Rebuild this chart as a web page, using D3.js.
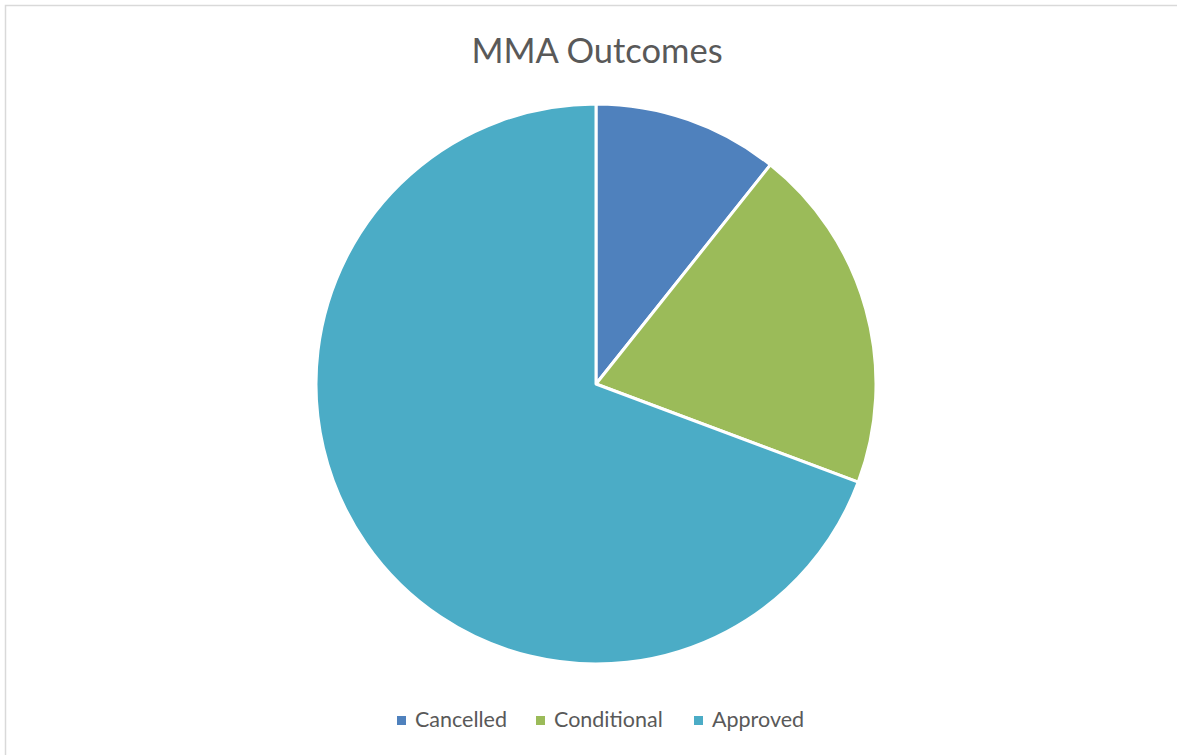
<!DOCTYPE html>
<html>
<head>
<meta charset="utf-8">
<script src="https://cdn.jsdelivr.net/npm/d3@7"></script>
<style>
  body { margin: 0; background: #fff; }
  svg { display: block; font-family: Lato, "Open Sans", sans-serif; }
</style>
</head>
<body>
<div id="chart"></div>
<script>
var width = 1177, height = 755;

// chart data
var categories = ["Cancelled", "Conditional", "Approved"];
var values = [10.7, 20.0, 69.3];
var colors = ["#4F81BD", "#9BBB59", "#4BACC6"];

var svg = d3.select("#chart")
    .append("svg")
    .attr("width", width)
    .attr("height", height);

// chart area border (only left and top visible in the crop)
svg.append("rect")
    .attr("x", 5.5).attr("y", 5.5)
    .attr("width", width + 20).attr("height", height + 20)
    .attr("fill", "none")
    .attr("stroke", "#d9d9d9")
    .attr("stroke-width", 1.5);

// title
svg.append("text")
    .attr("x", 597).attr("y", 63)
    .attr("text-anchor", "middle")
    .attr("fill", "#595959")
    .style("font-size", "34.5px")
    .text("MMA Outcomes");

var cx = 596, cy = 384, radius = 280;

var pie = d3.pie().sort(null).value(function(d) { return d.value; });
var arc = d3.arc().innerRadius(0).outerRadius(radius);

var data = categories.map(function(c, i) {
    return { name: c, value: values[i], color: colors[i] };
});

svg.append("g")
    .attr("transform", "translate(" + cx + "," + cy + ")")
    .selectAll("path")
    .data(pie(data))
    .join("path")
    .attr("d", arc)
    .attr("fill", function(d) { return d.data.color; })
    .attr("stroke", "#fff")
    .attr("stroke-width", 3)
    .attr("stroke-linejoin", "round");

// legend
var legendX = [397, 536, 694];
var legend = svg.append("g").selectAll("g")
    .data(data)
    .join("g")
    .attr("transform", function(d, i) { return "translate(" + legendX[i] + ",716)"; });

legend.append("rect")
    .attr("width", 9).attr("height", 9)
    .attr("fill", function(d) { return d.color; });

legend.append("text")
    .attr("x", 18).attr("y", 11)
    .attr("fill", "#595959")
    .style("font-size", "21.5px")
    .text(function(d) { return d.name; });
</script>
</body>
</html>
